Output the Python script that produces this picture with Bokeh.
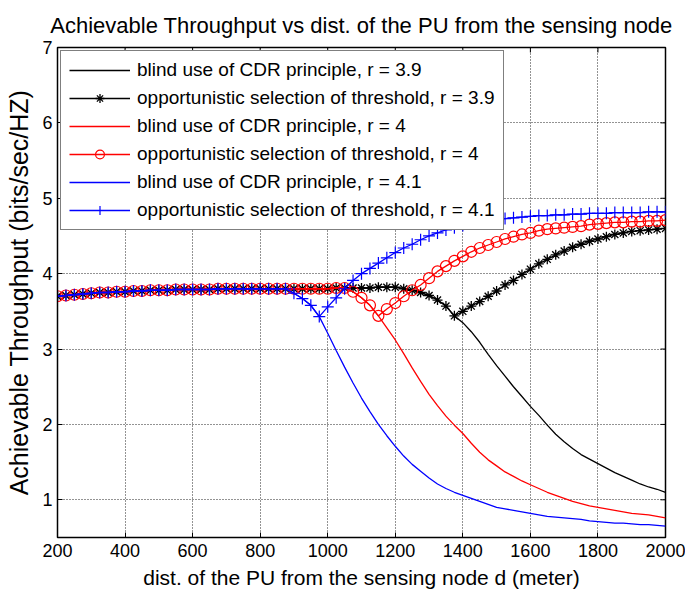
import math
from bokeh.plotting import figure
from bokeh.models import Legend, LegendItem, FixedTicker, Range1d
from bokeh.embed import file_html
from bokeh.resources import INLINE

# distance of the PU from the sensing node (m), 25 m steps
D = list(range(200, 2001, 25))
X_TICKS = [200, 400, 600, 800, 1000, 1200, 1400, 1600, 1800, 2000]
Y_TICKS = [1, 2, 3, 4, 5, 6, 7]
X_MIN, X_MAX = 200, 2000
Y_MIN, Y_MAX = 0.5, 7

# common plateau, d = 200 ... 1200
PLATEAU = [3.70, 3.71, 3.72, 3.73, 3.74, 3.75, 3.75, 3.76, 3.76, 3.77,
           3.77, 3.78, 3.78, 3.78, 3.79, 3.79, 3.79, 3.79, 3.79, 3.80,
           3.80, 3.80, 3.80, 3.80, 3.80, 3.80, 3.80, 3.80, 3.80, 3.80,
           3.80, 3.80, 3.80, 3.81, 3.81, 3.81, 3.81, 3.81, 3.82, 3.82, 3.82]

# r = 3.9
BLIND_39 = PLATEAU + [3.80, 3.78, 3.75, 3.71, 3.65, 3.57, 3.44,
                      3.35, 3.23, 3.09, 2.93, 2.78, 2.64, 2.50, 2.37, 2.24, 2.12,
                      1.99, 1.87, 1.77, 1.68, 1.60, 1.54, 1.48, 1.42, 1.36, 1.31,
                      1.26, 1.21, 1.17, 1.14, 1.10]
OPP_39 = PLATEAU + [3.80, 3.78, 3.75, 3.71, 3.65, 3.57, 3.44,
                    3.50, 3.57, 3.63, 3.70, 3.77, 3.85, 3.91, 3.99, 4.06, 4.13,
                    4.19, 4.25, 4.30, 4.35, 4.39, 4.43, 4.46, 4.49, 4.52, 4.54,
                    4.56, 4.57, 4.58, 4.59, 4.60]

# r = 4
BLIND_40 = PLATEAU[:35] + [3.76, 3.68, 3.58, 3.44,
                           3.28, 3.12, 2.94, 2.75, 2.57, 2.40, 2.25, 2.11, 1.99, 1.88,
                           1.75, 1.63, 1.53, 1.45, 1.37, 1.31, 1.25, 1.20, 1.15, 1.10,
                           1.06, 1.02, 0.98, 0.95, 0.92, 0.90, 0.88, 0.86, 0.84, 0.82,
                           0.81, 0.80, 0.78, 0.76]
OPP_40 = PLATEAU[:35] + [3.76, 3.68, 3.58, 3.44,
                         3.53, 3.61, 3.70, 3.78, 3.85, 3.94, 4.03, 4.10, 4.17, 4.23,
                         4.29, 4.34, 4.38, 4.42, 4.46, 4.49, 4.52, 4.54, 4.57, 4.59,
                         4.60, 4.61, 4.62, 4.63, 4.65, 4.66, 4.67, 4.68, 4.68, 4.69,
                         4.69, 4.70, 4.70, 4.71]

# r = 4.1
BLIND_41 = PLATEAU[:28] + [3.74, 3.67, 3.58, 3.43,
                           3.21, 2.98, 2.76, 2.55, 2.35, 2.17, 2.00, 1.85, 1.71, 1.58,
                           1.47, 1.38, 1.29, 1.21, 1.15, 1.10, 1.06, 1.02, 0.98, 0.94,
                           0.90, 0.88, 0.86, 0.84, 0.82, 0.80, 0.78, 0.77, 0.76, 0.75,
                           0.74, 0.72, 0.71, 0.70, 0.69, 0.69, 0.68, 0.67, 0.67, 0.66,
                           0.65]
OPP_41 = PLATEAU[:28] + [3.74, 3.67, 3.58, 3.43,
                         3.56, 3.68, 3.80, 3.91, 4.00, 4.07, 4.14, 4.21, 4.28, 4.34,
                         4.39, 4.45, 4.50, 4.54, 4.58, 4.61, 4.64, 4.66, 4.68, 4.70,
                         4.72, 4.73, 4.74, 4.75, 4.76, 4.77, 4.77, 4.78, 4.78, 4.79,
                         4.79, 4.80, 4.80, 4.80, 4.81, 4.81, 4.81, 4.81, 4.82, 4.82,
                         4.82]

LABELS = ["blind use of CDR principle, r = 3.9",
          "opportunistic selection of threshold, r = 3.9",
          "blind use of CDR principle, r = 4",
          "opportunistic selection of threshold, r = 4",
          "blind use of CDR principle, r = 4.1",
          "opportunistic selection of threshold, r = 4.1"]

FONT = "Liberation Sans"

p = figure(width=685, height=598, output_backend="svg", toolbar_location=None,
           x_range=Range1d(X_MIN, X_MAX), y_range=Range1d(Y_MIN, Y_MAX),
           min_border_left=57, min_border_right=20, min_border_top=47,
           min_border_bottom=61)

p.title.text = "Achievable Throughput vs dist. of the PU from the sensing node"
p.title.text_font = FONT
p.title.text_font_size = "22px"
p.title.text_font_style = "normal"
p.title.align = "center"
p.title.text_color = "black"
p.title.text_line_height = 0.6
p.title.standoff = 20

for ax in (p.xaxis[0], p.yaxis[0]):
    ax.major_label_text_font = FONT
    ax.major_label_text_font_size = "18px"
    ax.major_label_text_color = "black"
    ax.axis_label_text_font = FONT
    ax.axis_label_text_font_style = "normal"
    ax.axis_label_text_color = "black"
    ax.major_tick_in = 5
    ax.major_tick_out = 0
    ax.minor_tick_line_color = None
    ax.axis_line_color = "black"
    ax.major_tick_line_color = "black"

p.xaxis.major_label_standoff = 6
p.xaxis.axis_label_standoff = 6
p.xaxis.axis_label_text_font_size = "21px"
p.yaxis.major_label_standoff = 5
p.yaxis.axis_label_standoff = 6
p.yaxis.axis_label_text_font_size = "25px"

p.xaxis.ticker = FixedTicker(ticks=X_TICKS)
p.yaxis.ticker = FixedTicker(ticks=Y_TICKS)
p.xaxis.axis_label = "dist. of the PU from the sensing node d (meter)"
p.yaxis.axis_label = "Achievable Throughput (bits/sec/HZ)"

p.xgrid.ticker = FixedTicker(ticks=X_TICKS)
p.ygrid.ticker = FixedTicker(ticks=Y_TICKS)
for g in (p.xgrid[0], p.ygrid[0]):
    g.grid_line_color = "black"
    g.grid_line_dash = "1 2"
    g.grid_line_width = 1
    g.grid_line_alpha = 0.85

p.outline_line_color = "black"
p.outline_line_width = 1.5

# inward tick marks on the top and right edges of the box
p.scatter([X_MAX] * len(Y_TICKS), Y_TICKS, marker="dash", size=10,
          line_color="black", line_width=1)
p.scatter(X_TICKS, [Y_MAX] * len(X_TICKS), marker="dash", size=10,
          angle=math.pi / 2, line_color="black", line_width=1)

LW = 1.3
items = []
r1 = p.line(D, BLIND_39, line_color="black", line_width=LW)
items.append(LegendItem(label=LABELS[0], renderers=[r1]))
r2 = p.line(D, OPP_39, line_color="black", line_width=LW)
m2 = p.scatter(D, OPP_39, marker="asterisk", size=10, line_color="black", line_width=1.3)
items.append(LegendItem(label=LABELS[1], renderers=[r2, m2]))
r3 = p.line(D, BLIND_40, line_color="red", line_width=LW)
items.append(LegendItem(label=LABELS[2], renderers=[r3]))
r4 = p.line(D, OPP_40, line_color="red", line_width=LW)
m4 = p.scatter(D, OPP_40, marker="circle", size=11, line_color="red",
               fill_color=None, line_width=1.2)
items.append(LegendItem(label=LABELS[3], renderers=[r4, m4]))
r5 = p.line(D, BLIND_41, line_color="blue", line_width=LW)
items.append(LegendItem(label=LABELS[4], renderers=[r5]))
r6 = p.line(D, OPP_41, line_color="blue", line_width=LW)
m6 = p.scatter(D, OPP_41, marker="cross", size=12, line_color="blue", line_width=1.2)
items.append(LegendItem(label=LABELS[5], renderers=[r6, m6]))

legend = Legend(items=items, location="top_left")
legend.border_line_color = "black"
legend.border_line_width = 1.2
legend.background_fill_color = "white"
legend.background_fill_alpha = 1
legend.margin = 3
legend.padding = 8
legend.spacing = 6
legend.glyph_width = 61
legend.glyph_height = 22
legend.label_height = 22
legend.label_standoff = 7
legend.label_text_font = FONT
legend.label_text_font_size = "19px"
legend.label_text_color = "black"
p.add_layout(legend)

open("out.html", "w").write(file_html(p, INLINE))
